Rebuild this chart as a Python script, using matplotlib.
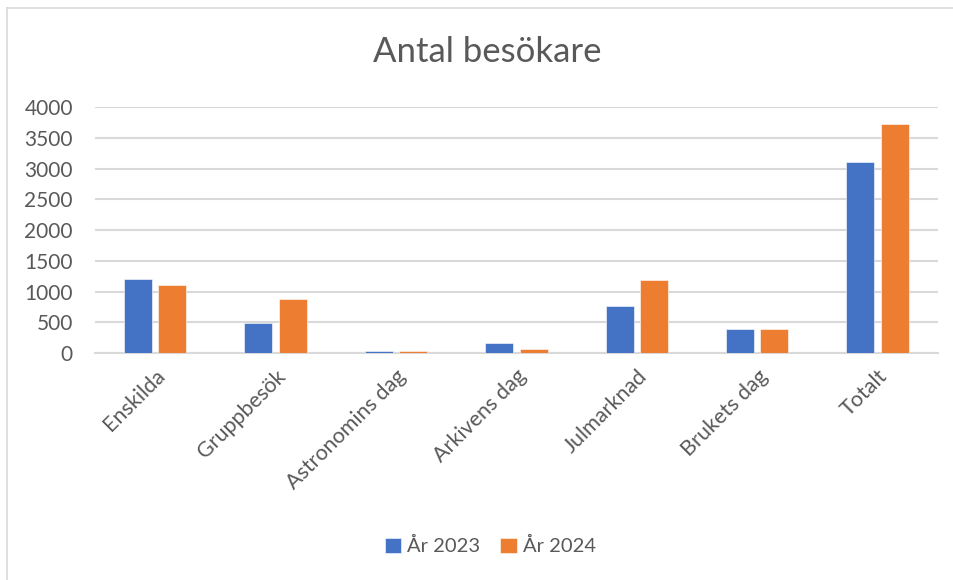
import numpy as np
import matplotlib.pyplot as plt
from matplotlib.lines import Line2D

plt.rcParams['font.family'] = ['Lato', 'DejaVu Sans']

# data
categories = ['Enskilda', 'Gruppbesök', 'Astronomins dag', 'Arkivens dag',
              'Julmarknad', 'Brukets dag', 'Totalt']
visitors_2023 = [1200, 485, 40, 170, 760, 400, 3110]
visitors_2024 = [1115, 875, 28, 65, 1185, 390, 3730]
series_labels = ['År 2023', 'År 2024']
yticks = [0, 500, 1000, 1500, 2000, 2500, 3000, 3500, 4000]

blue = '#4472C4'
orange = '#ED7D31'
text_col = '#595959'
grid_col = '#D9D9D9'

fig = plt.figure(figsize=(9.54, 5.8), dpi=100)
ax = fig.add_axes([0.0996, 0.391, 0.8834, 0.4245])

x = np.arange(len(categories))
w = 0.233
off = 0.143
ax.bar(x - off, visitors_2023, w, color=blue, edgecolor='white', linewidth=0.4,
       label=series_labels[0], zorder=3)
ax.bar(x + off, visitors_2024, w, color=orange, edgecolor='white', linewidth=0.4,
       label=series_labels[1], zorder=3)

ax.set_xlim(-0.5, len(categories) - 0.5)
ax.set_ylim(0, 4000)
ax.set_yticks(yticks)
ax.set_yticklabels([str(t) for t in yticks])
ax.yaxis.grid(True, color=grid_col, linewidth=1.5, zorder=0)
ax.set_axisbelow(True)

for s in ['top', 'right', 'left']:
    ax.spines[s].set_visible(False)
ax.spines['bottom'].set_color(grid_col)
ax.spines['bottom'].set_linewidth(1.5)

ax.tick_params(axis='both', length=0, colors=text_col, labelsize=15)
ax.tick_params(axis='y', pad=16)
ax.set_xticks(x)
ax.set_xticklabels(categories, rotation=45, ha='right', rotation_mode='anchor',
                   fontsize=15.5)
ax.tick_params(axis='x', pad=9)

fig.text(0.511, 0.91, 'Antal besökare', ha='center', va='center',
         fontsize=25, color=text_col)

fig.legend(loc='center', bbox_to_anchor=(0.514, 0.058), ncol=2, frameon=False,
           fontsize=14.5, labelcolor=text_col, handlelength=0.8, handleheight=0.8,
           handletextpad=0.3, columnspacing=1.0)

# chart border (only left and top edges visible in the reference)
fig.add_artist(Line2D([7 / 954, 7 / 954], [0, 1 - 8 / 580], color=grid_col,
                      linewidth=1.2, transform=fig.transFigure))
fig.add_artist(Line2D([7 / 954, 1], [1 - 8 / 580, 1 - 8 / 580], color=grid_col,
                      linewidth=1.2, transform=fig.transFigure))

fig.savefig('out.png', dpi=100, facecolor='white')
